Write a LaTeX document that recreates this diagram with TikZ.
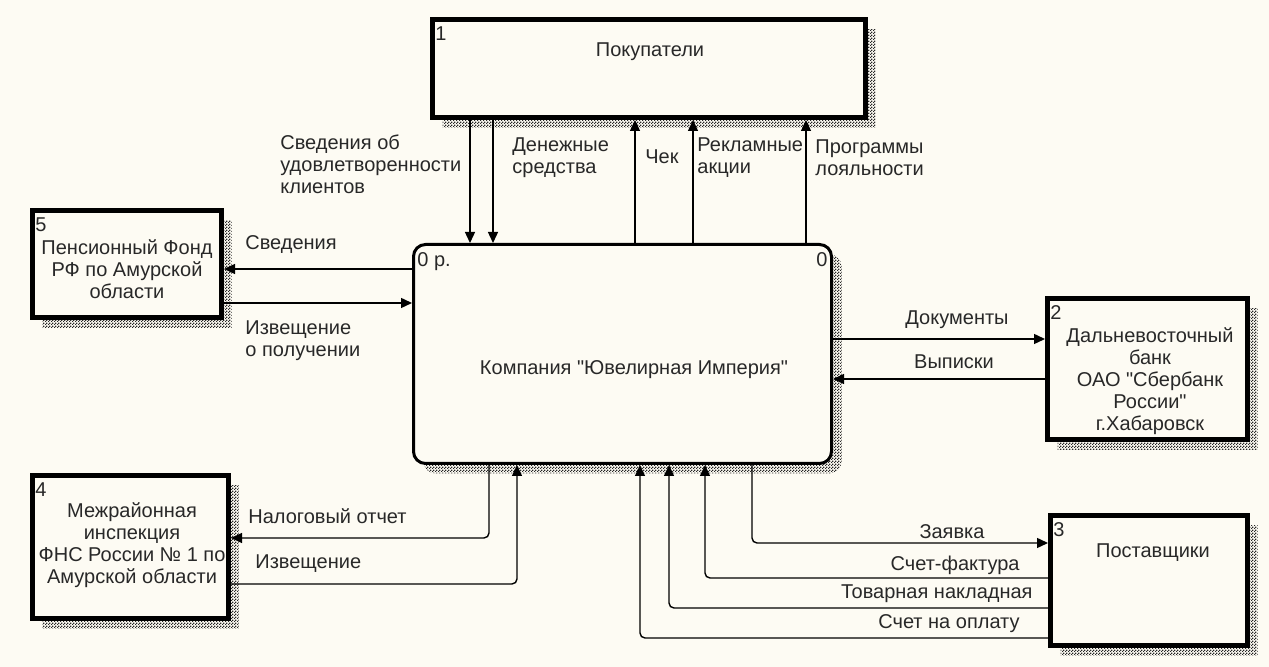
\documentclass[tikz,border=0pt]{standalone}
\usepackage{fontspec}
\newfontfamily\arialike{Liberation Sans}
\usetikzlibrary{arrows.meta,shadows,patterns}
\definecolor{paper}{RGB}{253,251,243}
\definecolor{ink}{RGB}{40,40,40}
\pgfdeclarepatternformonly{shdots}{\pgfqpoint{0pt}{0pt}}{\pgfqpoint{1.5pt}{1.5pt}}{\pgfqpoint{1.5pt}{1.5pt}}{%
  \pgfpathrectangle{\pgfqpoint{0pt}{0pt}}{\pgfqpoint{0.75pt}{0.75pt}}%
  \pgfpathrectangle{\pgfqpoint{0.75pt}{0.75pt}}{\pgfqpoint{0.75pt}{0.75pt}}%
  \pgfusepath{fill}}
\tikzset{
  hatch/.style={general shadow={pattern=shdots, pattern color=black!85,
      shadow xshift=5pt, shadow yshift=-5pt}},
  ent/.style={draw, line width=2.5pt, fill=paper, inner sep=0pt, hatch},
  proc/.style={draw, line width=1.5pt, rounded corners=6pt, fill=paper,
      inner sep=0pt, hatch},
  num/.style={anchor=north west, inner sep=2.5pt, yshift=-2pt, text=ink},
  flow/.style={line width=0.7pt, rounded corners=2.5pt,
      -{Triangle[length=5.5pt,width=5pt]}},
  txt/.style={text=ink, align=center, inner sep=0pt},
  lbl/.style={text=ink, align=left, inner sep=0pt, anchor=west},
}
\begin{document}
\begin{tikzpicture}[x=0.5pt, y=-0.5pt, font=\arialike\fontsize{10pt}{11pt}\selectfont]
  \fill[paper] (0,0) rectangle (1269,667);
  \useasboundingbox (0,0) rectangle (1269,667);

  % external entities and the process
  \node[ent, minimum width=216.5pt, minimum height=49pt,
    label={[num]north west:1}] (buyers) at (649,68.5) {};
  \node[ent, minimum width=94.5pt, minimum height=53.5pt,
    label={[num]north west:5}] (pfr) at (127,264) {};
  \node[ent, minimum width=100pt, minimum height=70.5pt,
    label={[num]north west:2}] (bank) at (1147.5,369) {};
  \node[ent, minimum width=98pt, minimum height=71.5pt,
    label={[num]north west:4}] (fns) at (130.5,547) {};
  \node[ent, minimum width=98.5pt, minimum height=65pt,
    label={[num]north west:3}] (supp) at (1149,580.5) {};
  \node[proc, minimum width=209pt, minimum height=109.5pt,
    label={[num]north west:0 р.},
    label={[num, anchor=north east]north east:0}] (comp) at (622.5,354) {};

  \node[txt] (tbuyers) at (650,52) {Покупатели};
  \node[txt] (tpfr) at (127,269) {Пенсионный Фонд\\РФ по Амурской\\области};
  \node[txt] (tbank) at (1150,381) {Дальневосточный\\банк\\ОАО "Сбербанк\\России"\\г.Хабаровск};
  \node[txt] (tfns) at (132,545) {Межрайонная\\инспекция\\ФНС России № 1 по\\Амурской области};
  \node[txt] (tsupp) at (1153,553) {Поставщики};
  \node[txt] (tcomp) at (634,370) {Компания "Ювелирная Империя"};

  % flows with buyers
  \draw[flow] (470,0 |- buyers.south) -- (470,0 |- comp.north);
  \draw[flow] (493,0 |- buyers.south) -- (493,0 |- comp.north);
  \draw[flow] (635,0 |- comp.north) -- (635,0 |- buyers.south);
  \draw[flow] (693,0 |- comp.north) -- (693,0 |- buyers.south);
  \draw[flow] (806,0 |- comp.north) -- (806,0 |- buyers.south);
  \node[lbl] (l1) at (280,164) {Сведения об\\удовлетворенности\\клиентов};
  \node[lbl] (l2) at (512,158) {Денежные\\средства};
  \node[lbl] (l3) at (645,157) {Чек};
  \node[lbl] (l4) at (697,158) {Рекламные\\акции};
  \node[lbl] (l5) at (815,158) {Программы\\лояльности};

  % flows with the pension fund
  \draw[flow] (comp.west |- 0,269) -- (pfr.east |- 0,269);
  \draw[flow] (pfr.east |- 0,303) -- (comp.west |- 0,303);
  \node[lbl] (l6) at (245,245) {Сведения};
  \node[lbl] (l7) at (245,341) {Извещение\\о получении};

  % flows with the bank
  \draw[flow] (comp.east |- 0,339) -- (bank.west |- 0,339);
  \draw[flow] (bank.west |- 0,379) -- (comp.east |- 0,379);
  \node[txt] (l8) at (957,320) {Документы};
  \node[txt] (l9) at (954,362) {Выписки};

  % flows with the tax office
  \draw[flow] (489,0 |- comp.south) |- (fns.east |- 0,538);
  \draw[flow] (fns.east |- 0,584) -| (517,0 |- comp.south);
  \node[lbl] (l10) at (248,516) {Налоговый отчет};
  \node[lbl] (l11) at (255,564) {Извещение};

  % flows with suppliers
  \draw[flow] (752,0 |- comp.south) |- (supp.west |- 0,543);
  \draw[flow] (supp.west |- 0,578) -| (705,0 |- comp.south);
  \draw[flow] (supp.west |- 0,608) -| (669,0 |- comp.south);
  \draw[flow] (supp.west |- 0,638) -| (640,0 |- comp.south);
  \node[txt] (l12) at (952,532) {Заявка};
  \node[lbl, anchor=east] (l13) at (1020,565) {Счет-фактура};
  \node[lbl, anchor=east] (l14) at (1033,594) {Товарная накладная};
  \node[lbl, anchor=east] (l15) at (1020,624) {Счет на оплату};
\end{tikzpicture}
\end{document}
